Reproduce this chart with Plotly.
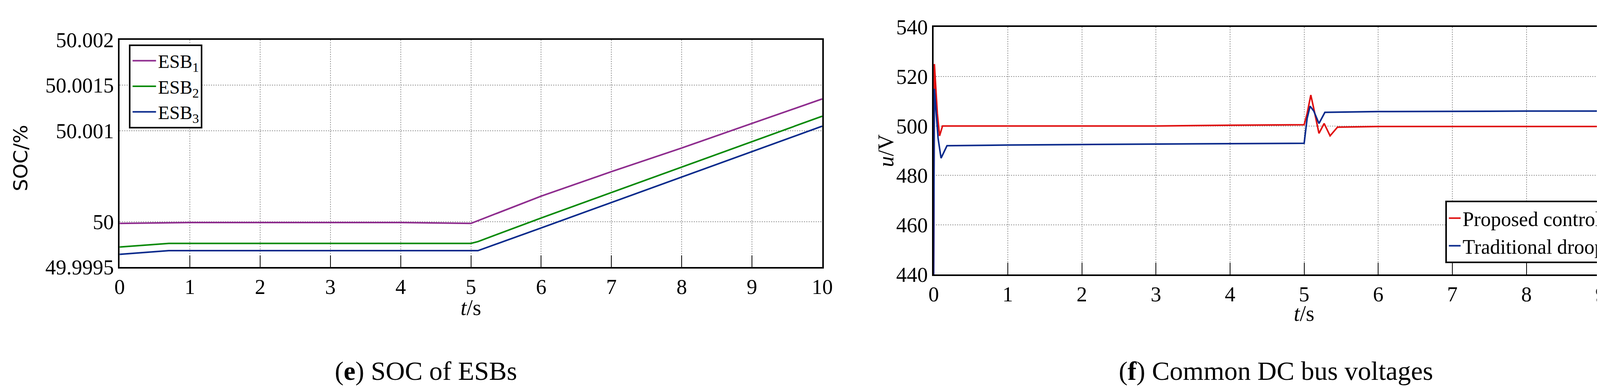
import plotly.graph_objects as go

# SOC of ESBs (breakpoints)
t_soc = [0, 0.7, 1, 2, 3, 4, 5, 5.1, 6, 7, 8, 9, 10]
esb1 = [49.99998, 49.99999, 49.99999, 49.99999, 49.99999, 49.99999, 49.99998, 50.00001,
        50.00028, 50.00055, 50.00081, 50.00108, 50.00135]
esb2 = [49.99972, 49.99976, 49.99976, 49.99976, 49.99976, 49.99976, 49.99976, 49.99978,
        50.00004, 50.00032, 50.00060, 50.00088, 50.00116]
esb3 = [49.99964, 49.99968, 49.99968, 49.99968, 49.99968, 49.99968, 49.99968, 49.99968,
        49.99993, 50.00021, 50.00049, 50.00077, 50.00105]
soc_ticks = [49.9995, 50, 50.001, 50.0015, 50.002]
soc_ticktext = ["49.9995", "50", "50.001", "50.0015", "50.002"]

# Common DC bus voltage
t_red = [0, 0.01, 0.05, 0.08, 0.12, 1, 2, 3, 4, 5.0, 5.04, 5.09, 5.13, 5.2, 5.27, 5.35, 5.45, 6, 8, 10]
u_red = [440, 525, 505, 496, 500, 500, 500, 500, 500.3, 500.5, 505, 512.5, 507, 497, 501, 496, 499.5, 499.8, 499.8, 499.8]
t_blue = [0, 0.01, 0.06, 0.1, 0.18, 1, 2, 3, 4, 5.0, 5.04, 5.08, 5.13, 5.2, 5.28, 6, 8, 10]
u_blue = [440, 515, 495, 487, 492, 492.3, 492.5, 492.7, 492.8, 493, 503, 508, 506, 501, 505.5, 505.8, 506, 506]
x_ticks = list(range(0, 11))

font = "Liberation Serif"
fig = go.Figure()

fig.add_trace(go.Scatter(x=t_soc, y=esb1, mode="lines", name="ESB<sub>1</sub>",
                         line=dict(color="#8e2c8e", width=4), xaxis="x", yaxis="y"))
fig.add_trace(go.Scatter(x=t_soc, y=esb2, mode="lines", name="ESB<sub>2</sub>",
                         line=dict(color="#0a8a0a", width=4), xaxis="x", yaxis="y"))
fig.add_trace(go.Scatter(x=t_soc, y=esb3, mode="lines", name="ESB<sub>3</sub>",
                         line=dict(color="#0a2a8c", width=4), xaxis="x", yaxis="y"))

fig.add_trace(go.Scatter(x=t_red, y=u_red, mode="lines", name="Proposed control method",
                         line=dict(color="#e01010", width=4), xaxis="x2", yaxis="y2",
                         legend="legend2"))
fig.add_trace(go.Scatter(x=t_blue, y=u_blue, mode="lines", name="Traditional droop control",
                         line=dict(color="#0a2a8c", width=4), xaxis="x2", yaxis="y2",
                         legend="legend2"))

ax = dict(showline=True, linecolor="black", linewidth=4, mirror=True, automargin=False,
          showgrid=True, gridcolor="#999999", griddash="dot", gridwidth=1.5,
          ticks="inside", ticklen=30, tickcolor="black", tickwidth=2,
          tickfont=dict(family=font, size=54, color="black"), zeroline=False)
yax = dict(ax, ticks="")

fig.update_layout(
    width=4328, height=999, margin=dict(l=0, r=0, t=0, b=0, autoexpand=False),
    plot_bgcolor="white", paper_bgcolor="white",
    xaxis=dict(ax, domain=[0.0689, 0.4845], range=[0, 10], tickvals=x_ticks, anchor="y"),
    yaxis=dict(yax, domain=[0.3233, 0.9059], range=[49.9995, 50.002],
               tickvals=soc_ticks, ticktext=soc_ticktext, anchor="x"),
    xaxis2=dict(ax, domain=[0.5504, 0.9887], range=[0, 10], tickvals=x_ticks, anchor="y2"),
    yaxis2=dict(yax, domain=[0.3043, 0.9389], range=[440, 540], dtick=20, anchor="x2"),
    legend=dict(x=0.0745, y=0.894, xanchor="left", yanchor="top", bgcolor="white",
                bordercolor="black", borderwidth=4, font=dict(family=font, size=48, color="black"),
                tracegroupgap=0, itemwidth=60),
    legend2=dict(x=0.9864, y=0.493, xanchor="right", yanchor="top", bgcolor="white",
                 bordercolor="black", borderwidth=4, font=dict(family=font, size=52, color="black")),
    showlegend=True,
)

ann = [
    dict(text="<i>t</i>/s", x=0.2767, y=1 - 780 / 999),
    dict(text="<i>t</i>/s", x=0.7695, y=1 - 795 / 999),
    dict(text="SOC/%", x=45 / 4328, y=1 - 397 / 999, textangle=-90, font=dict(family="DejaVu Sans", size=50, color="black")),
    dict(text="<i>u</i>/V", x=2260 / 4328, y=1 - 378 / 999, textangle=-90),
    dict(text="(<b>e</b>) SOC of ESBs", x=0.25, y=1 - 942 / 999, font=dict(family=font, size=68, color="black")),
    dict(text="(<b>f</b>) Common DC bus voltages", x=0.753, y=1 - 942 / 999, font=dict(family=font, size=68, color="black")),
]
for a in ann:
    a.setdefault("font", dict(family=font, size=56, color="black"))
    fig.add_annotation(xref="paper", yref="paper", showarrow=False, xanchor="center", yanchor="middle", **a)

fig.write_html("out.html")
